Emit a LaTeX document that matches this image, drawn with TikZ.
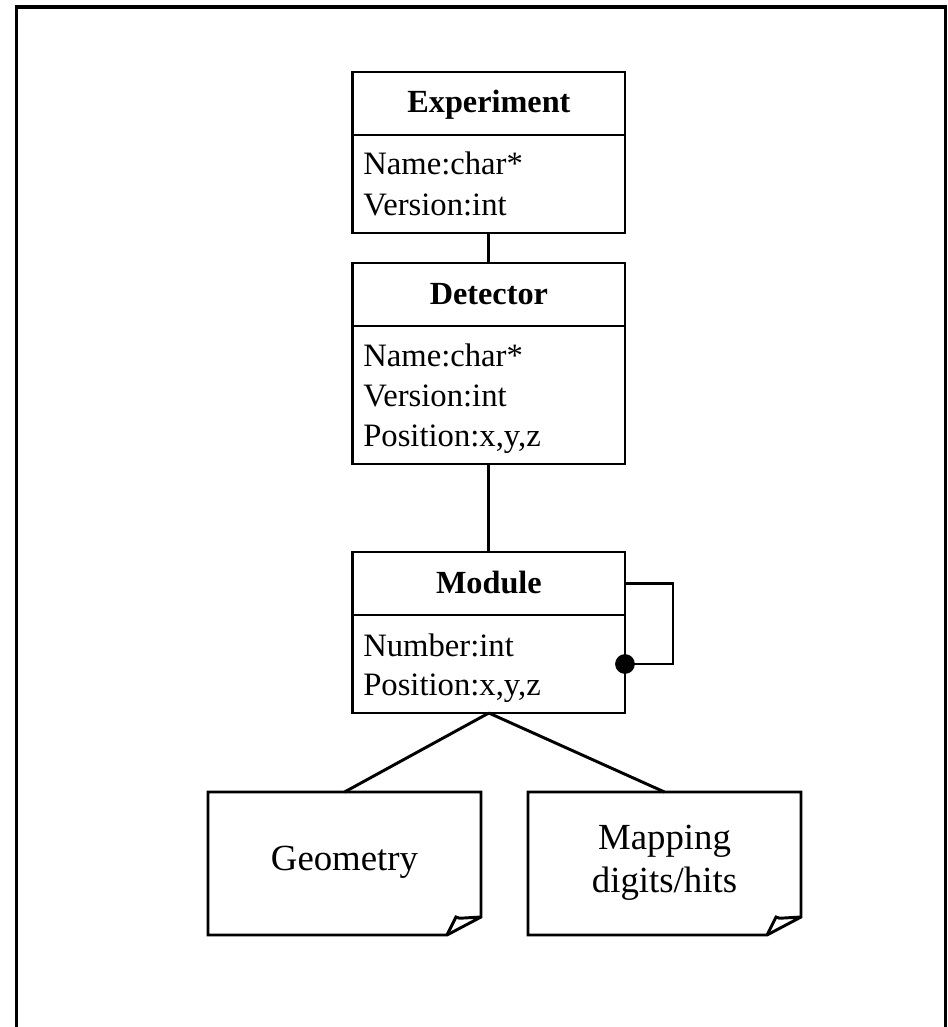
\documentclass[tikz,border=0pt]{standalone}
\usepackage{fontspec}
\setmainfont{Liberation Serif}
\usetikzlibrary{calc}

\tikzset{
  ln/.style={line width=2.2pt, line cap=butt, line join=miter},
  comp/.style={ln, draw, rectangle, inner sep=0pt, outer sep=0pt, minimum width=204.2pt},
  ttl/.style={inner sep=0pt, anchor=base, font=\fontsize{24.2}{28}\selectfont\bfseries},
  attr/.style={inner sep=0pt, anchor=base west, font=\fontsize{24.5}{28}\selectfont},
  notearea/.style={rectangle, inner sep=0pt, outer sep=0pt, minimum width=204.75pt, minimum height=107.25pt},
  notetext/.style={inner sep=0pt, anchor=base, font=\fontsize{27.6}{32}\selectfont},
}

% folded-corner note drawn around a named (invisible) node
\newcommand{\foldnote}[1]{%
  \draw[ln] (#1.north west) -- (#1.north east)
    -- ($(#1.south east)+(0,-18)$)
    -- ($(#1.south east)+(-34,0)$)
    -- (#1.south west) -- cycle;
  \draw[ln] ($(#1.south east)+(-34,0)$) -- ($(#1.south east)+(-25,-18)$)
    .. controls ($(#1.south east)+(-23,-16.5)$) and ($(#1.south east)+(-20,-16.5)$) .. ($(#1.south east)+(-17,-17)$)
    -- ($(#1.south east)+(0,-18)$);
}

\begin{document}
\begin{tikzpicture}[x=0.75pt, y=-0.75pt]
\useasboundingbox (0,0) rectangle (948,1027);
\fill[white] (0,0) rectangle (948,1027);

% outer frame (open at the bottom)
\draw[line width=2.4pt] (16.5,1027) -- (16.5,7) -- (945.5,7) -- (945.5,1027);

% Experiment class
\node[comp, minimum height=47.25pt, anchor=north west] (expT) at (352.7,72) {};
\node[comp, minimum height=73.5pt, anchor=north] (expB) at (expT.south) {};
\node[ttl] (expN) at (488.9,113) {Experiment};
\node[attr] (expA1) at (363,175) {Name:char*};
\node[attr] (expA2) at (363,215) {Version:int};

% Detector class
\node[comp, minimum height=47.25pt, anchor=north west] (detT) at (352.7,263) {};
\node[comp, minimum height=103.5pt, anchor=north] (detB) at (detT.south) {};
\node[ttl] (detN) at (488.9,304) {Detector};
\node[attr] (detA1) at (363,366) {Name:char*};
\node[attr] (detA2) at (363,406) {Version:int};
\node[attr] (detA3) at (363,446) {Position:x,y,z};

% Module class
\node[comp, minimum height=47.25pt, anchor=north west] (modT) at (352.7,552) {};
\node[comp, minimum height=73.5pt, anchor=north] (modB) at (modT.south) {};
\node[ttl] (modN) at (488.9,593) {Module};
\node[attr] (modA1) at (363,656) {Number:int};
\node[attr] (modA2) at (363,695) {Position:x,y,z};

% notes
\node[notearea, anchor=north west] (geo) at (208,792) {};
\foldnote{geo}
\node[notetext] (geoT) at (344.5,870) {Geometry};

\node[notearea, anchor=north west] (map) at (528,792) {};
\foldnote{map}
\node[notetext] (mapT1) at (664.5,849) {Mapping};
\node[notetext] (mapT2) at (664.5,892) {digits/hits};

% associations
\draw[ln] (expB.south) -- (detT.north);
\draw[ln] (detB.south) -- (modT.north);
\draw[ln] (modB.south) -- (geo.north);
\draw[ln] (modB.south) -- (map.north);

% self-association of Module
\draw[ln] (modT.east) -- ++(48,0) |- (modB.east);
\fill (modB.east) circle[radius=7.4pt];
\end{tikzpicture}
\end{document}
